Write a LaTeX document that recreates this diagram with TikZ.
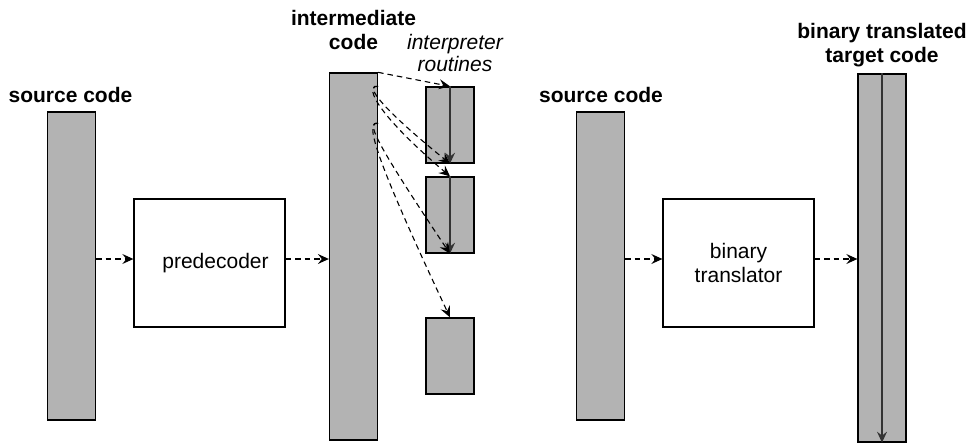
\documentclass[tikz,border=0pt]{standalone}
\usepackage{fontspec}
\setmainfont{Liberation Sans}
\usetikzlibrary{arrows.meta,calc}
\definecolor{colgray}{HTML}{B3B3B3}
\definecolor{darkline}{HTML}{333333}
\begin{document}
\begin{tikzpicture}[x=1pt,y=-1pt,
  col/.style={draw, line width=1.3pt, fill=colgray, inner sep=0pt, minimum width=48pt},
  box/.style={draw, line width=1.3pt, fill=white, inner sep=0pt, minimum width=151pt, minimum height=128pt, align=center,
     font=\fontsize{21}{24}\selectfont},
  lbl/.style={align=center, inner sep=0pt, font=\bfseries\fontsize{21}{24}\selectfont},
  ilbl/.style={align=center, inner sep=0pt, font=\itshape\fontsize{21}{22.5}\selectfont},
  flow/.style={line width=1.1pt, dash pattern=on 5.5pt off 4pt, -{Stealth[length=11pt,width=10pt,inset=4pt]}},
  inarrow/.style={line width=1.3pt, draw=darkline, -{Stealth[length=11pt,width=10pt,inset=4pt]}}]
\useasboundingbox (0,0) rectangle (976,444);

% left part
\node[col, minimum height=308pt] (src1) at (71.5,266) {};
\node[box] (pre) at (209.5,263) {\hspace{12pt}predecoder};
\node[col, minimum height=367pt] (inter) at (353.5,256.5) {};
\node[col, minimum height=76pt] (r1) at (450,125) {};
\node[col, minimum height=76pt] (r2) at (450,215) {};
\node[col, minimum height=76pt] (r3) at (450,356) {};

% right part
\node[col, minimum height=308pt] (src2) at (600.5,266) {};
\node[box] (bt) at (738.5,263) {binary\\translator};
\node[col, minimum height=368pt] (tgt) at (882,258) {};

% labels
\node[lbl] (l1) at (70.5,95) {source code};
\node[lbl] (l2) at (353.5,30) {intermediate\\code};
\node[ilbl] (l3) at (455,53) {interpreter\\routines};
\node[lbl] (l4) at (601,95) {source code};
\node[lbl] (l5) at (882,45) {binary translated\\target code};

% horizontal flows
\coordinate (ay) at (0,259);
\draw[flow] (src1.east |- ay) -- (pre.west |- ay);
\draw[flow] (pre.east |- ay) -- (inter.west |- ay);
\draw[flow] (src2.east |- ay) -- (bt.west |- ay);
\draw[flow] (bt.east |- ay) -- (tgt.west |- ay);

% inner arrows
\draw[inarrow] (r1.north) -- (r1.south);
\draw[inarrow] (r2.north) -- (r2.south);
\draw[inarrow] (tgt.north) -- (tgt.south);

% dispatch edges
\coordinate (c1) at ($(inter.north east)+(0,14)$);
\coordinate (c2) at ($(inter.north east)+(0,51)$);
\draw[flow] (inter.north east) -- (r1.north);
\draw[flow] (c1) .. controls ($(c1)+(-12,-2)$) and ($(c1)+(-6,14)$) .. (r1.south);
\draw[flow] (c1) .. controls ($(c1)+(-12,-2)$) and ($(c1)+(-10,20)$) .. (r2.north);
\draw[flow] (c2) .. controls ($(c2)+(-12,-2)$) and ($(c2)+(-6,14)$) .. (r2.south);
\draw[flow] (c2) .. controls ($(c2)+(-12,-2)$) and ($(c2)+(-10,20)$) .. (r3.north);
\end{tikzpicture}
\end{document}
